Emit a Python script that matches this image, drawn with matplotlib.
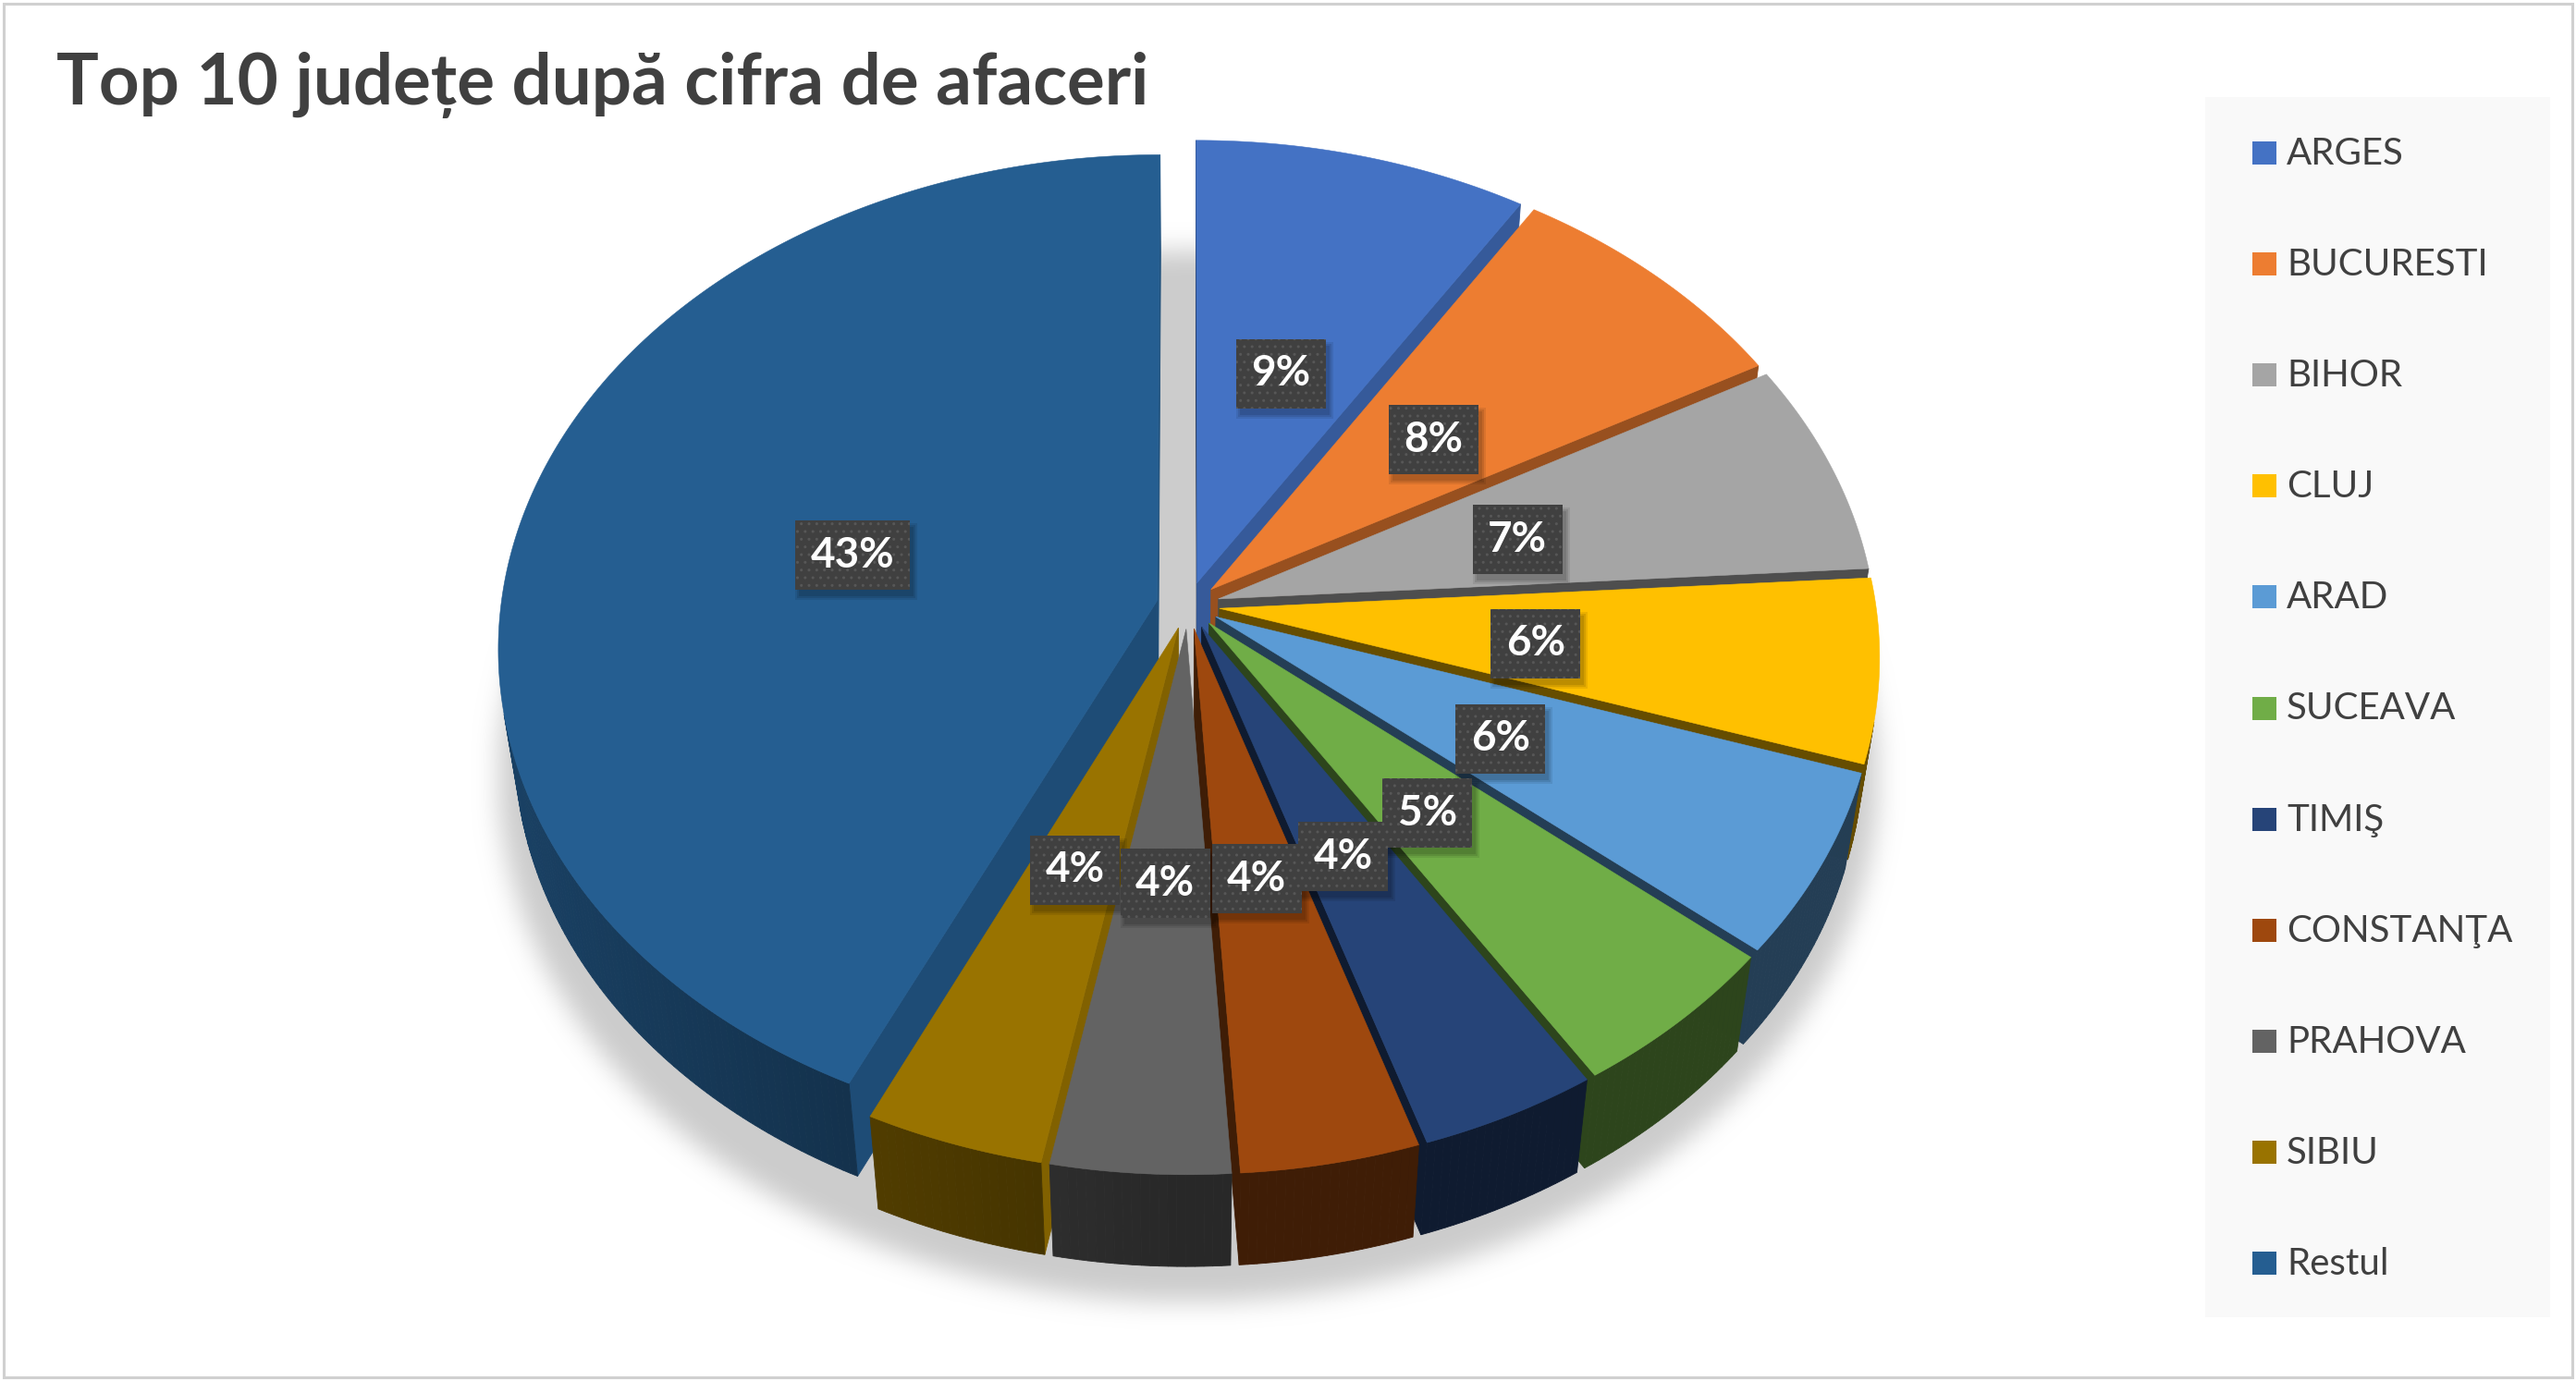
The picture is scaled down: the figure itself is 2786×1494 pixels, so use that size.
import numpy as np
import matplotlib
matplotlib.use('Agg')
import matplotlib.pyplot as plt
import matplotlib.colors as mcolors
from matplotlib.patches import Polygon, Rectangle
from matplotlib.path import Path

# chart data
title = 'Top 10 județe după cifra de afaceri'
categories = ['ARGES', 'BUCURESTI', 'BIHOR', 'CLUJ', 'ARAD', 'SUCEAVA',
              'TIMIŞ', 'CONSTANŢA', 'PRAHOVA', 'SIBIU', 'Restul']
shares = [9, 8, 7, 6, 6, 5, 4, 4, 4, 4, 43]
colors = ['#4472C4', '#ED7D31', '#A5A5A5', '#FFC000', '#5B9BD5', '#70AD47',
          '#264478', '#9E480E', '#636363', '#997300', '#255E91']

W, H = 2786, 1494

# fake 3D camera for the pie (pixel space)
CX, CY = 1285, 655
S = 710
SIN_A = 0.745
COS_A = np.sqrt(1 - SIN_A ** 2)
D = 7.0
DEPTH = 0.225
EXPLODE = 0.048
LABEL_R = 0.53

CAM = np.array([0.0, -D * COS_A, D * SIN_A])


def project(x, y, z):
    yc = y * SIN_A + z * COS_A
    zc = D + y * COS_A - z * SIN_A
    return CX + S * x * D / zc, CY - S * yc * D / zc


def depth_of(x, y, z):
    return D + y * COS_A - z * SIN_A


def shade(color, f):
    r, g, b = mcolors.to_rgb(color)
    return (r * f, g * f, b * f)


def box_blur(img, r, axis):
    pad = [(0, 0), (0, 0)]
    pad[axis] = (r + 1, r)
    p = np.pad(img, pad, mode='edge')
    c = np.cumsum(p, axis=axis)
    if axis == 0:
        return (c[2 * r + 1:] - c[:-2 * r - 1]) / (2 * r + 1)
    return (c[:, 2 * r + 1:] - c[:, :-2 * r - 1]) / (2 * r + 1)


fig = plt.figure(figsize=(W / 100, H / 100), dpi=100)
ax = fig.add_axes([0, 0, 1, 1])
ax.set_xlim(0, W)
ax.set_ylim(H, 0)

# soft floor shadow under the pie
step = 2
gx, gy = np.meshgrid(np.arange(0, W, step) + step / 2, np.arange(0, H, step) + step / 2)
tt = np.linspace(0, 2 * np.pi, 360)
fx, fy = project(1.07 * np.cos(tt), 1.07 * np.sin(tt), -DEPTH)
floor = Path(np.column_stack([fx, fy + 24]))
mask = floor.contains_points(np.column_stack([gx.ravel(), gy.ravel()])).reshape(gx.shape).astype(float)
for _ in range(3):
    mask = box_blur(mask, 6, 0)
    mask = box_blur(mask, 6, 1)
shadow = np.zeros(mask.shape + (4,))
shadow[..., :3] = 0.8
shadow[..., 3] = mask
ax.imshow(shadow, extent=(0, W, H, 0), origin='upper', interpolation='bilinear', zorder=0)

# slice geometry, clockwise from 12 o'clock
fracs = np.array(shares, dtype=float) / sum(shares)
ends = np.cumsum(fracs)
starts = ends - fracs
t_hi = np.pi / 2 - 2 * np.pi * starts
t_lo = np.pi / 2 - 2 * np.pi * ends
t_mid = (t_hi + t_lo) / 2

side_faces = []
top_faces = []
for i, col in enumerate(colors):
    ox, oy = EXPLODE * np.cos(t_mid[i]), EXPLODE * np.sin(t_mid[i])
    n = max(12, int(np.degrees(t_hi[i] - t_lo[i]) * 1.5))
    ts = np.linspace(t_lo[i], t_hi[i], n)
    px, py = project(ox + np.cos(ts), oy + np.sin(ts), 0.0)
    bx, by = project(ox + np.cos(ts), oy + np.sin(ts), -DEPTH)
    cx0, cy0 = project(ox, oy, 0.0)
    cx1, cy1 = project(ox, oy, -DEPTH)
    top_faces.append((np.column_stack([np.r_[cx0, px], np.r_[cy0, py]]), col))

    # outer curved wall
    for k in range(n - 1):
        tm = (ts[k] + ts[k + 1]) / 2
        P = np.array([ox + np.cos(tm), oy + np.sin(tm), -DEPTH / 2])
        nrm = np.array([np.cos(tm), np.sin(tm), 0.0])
        if np.dot(CAM - P, nrm) <= 0:
            continue
        f = 0.4 + 0.3 * max(0.0, -np.cos(tm))
        quad = [(px[k], py[k]), (px[k + 1], py[k + 1]), (bx[k + 1], by[k + 1]), (bx[k], by[k])]
        side_faces.append((depth_of(*P), quad, shade(col, f)))

    # radial cut faces
    for t, sgn in ((t_lo[i], 1.0), (t_hi[i], -1.0)):
        nrm = sgn * np.array([np.sin(t), -np.cos(t), 0.0])
        P = np.array([ox + 0.5 * np.cos(t), oy + 0.5 * np.sin(t), -DEPTH / 2])
        if np.dot(CAM - P, nrm) <= 0:
            continue
        rx0, ry0 = project(ox + np.cos(t), oy + np.sin(t), 0.0)
        rx1, ry1 = project(ox + np.cos(t), oy + np.sin(t), -DEPTH)
        f = max(0.4, 0.45 + 0.4 * nrm[0])
        quad = [(cx0, cy0), (rx0, ry0), (rx1, ry1), (cx1, cy1)]
        side_faces.append((depth_of(*P), quad, shade(col, f)))

for _, quad, c in sorted(side_faces, key=lambda s: -s[0]):
    ax.add_patch(Polygon(quad, closed=True, fc=c, ec=c, lw=0.6, zorder=2))
for verts, c in top_faces:
    ax.add_patch(Polygon(verts, closed=True, fc=c, ec=c, lw=0.4, zorder=3))

# data labels (dark boxes with a dotted texture and a soft drop shadow)
labels = []
for i, v in enumerate(shares):
    lx, ly = project(LABEL_R * np.cos(t_mid[i]), LABEL_R * np.sin(t_mid[i]), 0.0)
    t = ax.text(lx, ly + 6, f'{v:.0f}%', fontsize=33, fontweight='bold', family='Lato',
                color='white', ha='center', va='center', zorder=5,
                bbox=dict(boxstyle='square,pad=0.36', fc='#404040', ec='#575757', lw=0, hatch='..'))
    labels.append(t)

fig.canvas.draw()
renderer = fig.canvas.get_renderer()
inv = ax.transData.inverted()
for t in labels:
    bb = t.get_bbox_patch().get_window_extent(renderer)
    (x0, y0), (x1, y1) = inv.transform([[bb.x0, bb.y0], [bb.x1, bb.y1]])
    for k, a in enumerate((0.10, 0.10, 0.08)):
        g = 2 * k
        ax.add_patch(Rectangle((min(x0, x1) + 4 - g, min(y0, y1) + 7 - g),
                               abs(x1 - x0) + 2 * g, abs(y1 - y0) + 2 * g,
                               fc='black', ec='none', alpha=a, zorder=4))

# title
ax.text(61, 113, title, fontsize=55, fontweight='bold', family='Lato',
        color='#404040', ha='left', va='baseline', zorder=6)

# legend
ax.add_patch(Rectangle((2385, 105), 373, 1320, fc='#f9f9f9', ec='none', zorder=1))
for i, (name, col) in enumerate(zip(categories, colors)):
    base = 178 + 120.1 * i
    ax.add_patch(Rectangle((2436, base - 25), 26, 25, fc=col, ec='none', zorder=2))
    ax.text(2473, base, name, fontsize=29, family='Lato', color='#404040',
            ha='left', va='baseline', zorder=2)

# chart border
ax.add_patch(Rectangle((4, 4), W - 8, H - 8, fill=False, ec='#d0d0d0', lw=2.2, zorder=7))

ax.set_xlim(0, W)
ax.set_ylim(H, 0)
ax.set_aspect('auto')
ax.axis('off')
fig.savefig('out.png', dpi=100)
